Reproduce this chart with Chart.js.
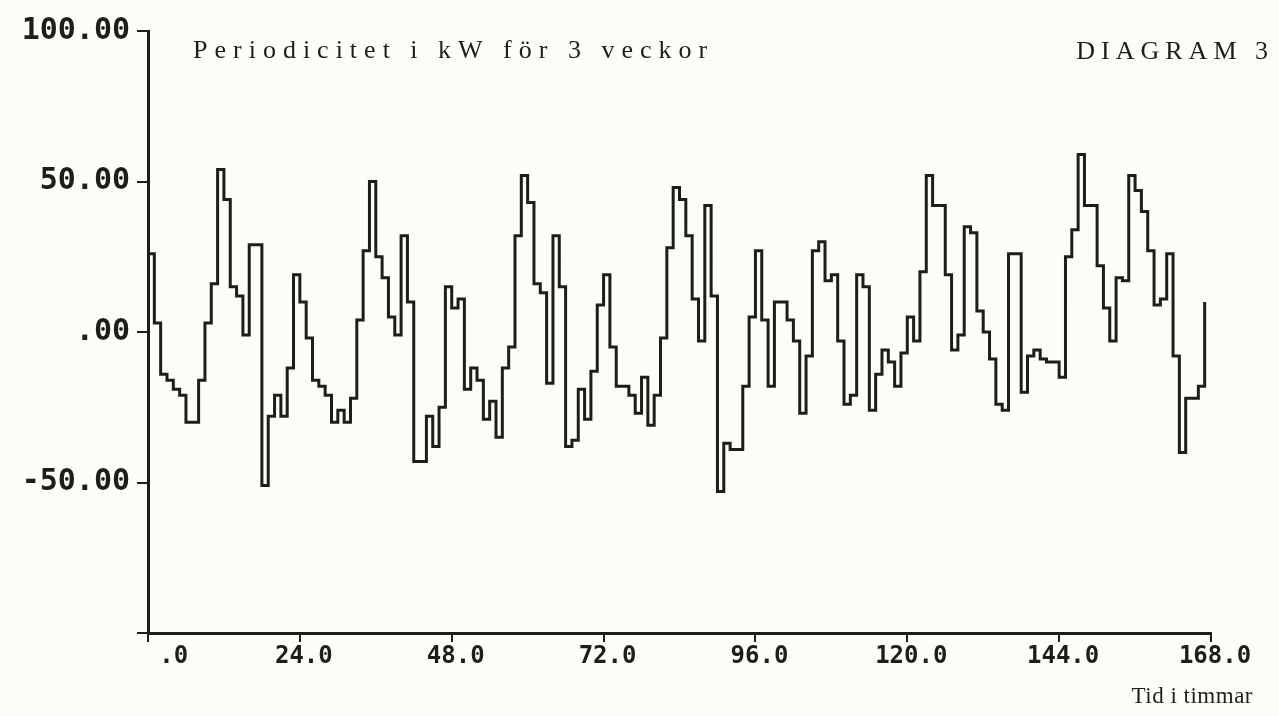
<!DOCTYPE html>
<html>
<head>
<meta charset="utf-8">
<script src="https://cdn.jsdelivr.net/npm/chart.js@4.4.1/dist/chart.umd.min.js"></script>
<style>
    html, body { margin: 0; padding: 0; background: #fdfdf8; }
    #wrap { width: 1279px; height: 716px; }
</style>
</head>
<body>
<div id="wrap"><canvas id="diagram_Chart" width="1279" height="716"></canvas></div>
<script>
// kW-avvikelse per timme, ett dygn per rad (timme 0-167)
const kwDag1 = [26, 3, -14, -16, -19, -21, -30, -30, -16, 3, 16, 54, 44, 15, 12, -1, 29, 29, -51, -28, -21, -28, -12, 19];
const kwDag2 = [10, -2, -16, -18, -21, -30, -26, -30, -22, 4, 27, 50, 25, 18, 5, -1, 32, 10, -43, -43, -28, -38, -25, 15];
const kwDag3 = [8, 11, -19, -12, -16, -29, -23, -35, -12, -5, 32, 52, 43, 16, 13, -17, 32, 15, -38, -36, -19, -29, -13, 9];
const kwDag4 = [19, -5, -18, -18, -21, -27, -15, -31, -21, -2, 28, 48, 44, 32, 11, -3, 42, 12, -53, -37, -39, -39, -18, 5];
const kwDag5 = [27, 4, -18, 10, 10, 4, -3, -27, -8, 27, 30, 17, 19, -3, -24, -21, 19, 15, -26, -14, -6, -10, -18, -7];
const kwDag6 = [5, -3, 20, 52, 42, 42, 19, -6, -1, 35, 33, 7, 0, -9, -24, -26, 26, 26, -20, -8, -6, -9, -10, -10];
const kwDag7 = [-15, 25, 34, 59, 42, 42, 22, 8, -3, 18, 17, 52, 47, 40, 27, 9, 11, 26, -8, -40, -22, -22, -18, 10];

// axlar
const xTicks = [0, 24, 48, 72, 96, 120, 144, 168];
const xTickLabels = ['.0', '24.0', '48.0', '72.0', '96.0', '120.0', '144.0', '168.0'];
const yTicks = [-100, -50, 0, 50, 100];
const yTickLabels = ['', '-50.00', '.00', '50.00', '100.00'];

const titleText = 'Periodicitet i kW för 3 veckor';
const diagramText = 'DIAGRAM 3';
const xAxisText = 'Tid i timmar';

document.addEventListener('DOMContentLoaded', () => {
    const kw = [...kwDag1, ...kwDag2, ...kwDag3, ...kwDag4, ...kwDag5, ...kwDag6, ...kwDag7];
    const points = kw.map((v, hour) => ({ x: hour, y: v }));
    const ink = '#1d1d1b';

    // texter i diagrammet
    const textPlugin = {
        id: 'diagramTexts',
        afterDraw(chart) {
            const ctx = chart.ctx;
            ctx.save();
            ctx.fillStyle = ink;
            ctx.textBaseline = 'alphabetic';
            ctx.font = '26px "Liberation Serif"';
            ctx.letterSpacing = '7px';
            ctx.textAlign = 'left';
            ctx.fillText(titleText, 193, 58);
            ctx.letterSpacing = '6px';
            ctx.textAlign = 'right';
            ctx.fillText(diagramText, 1274, 59);
            ctx.font = '23px "Liberation Serif"';
            ctx.letterSpacing = '0.5px';
            ctx.fillText(xAxisText, 1253, 703);
            ctx.restore();
        }
    };

    const ctxDiagram = document.getElementById('diagram_Chart').getContext('2d');
    new Chart(ctxDiagram, {
        type: 'line',
        data: {
            datasets: [{
                data: points,
                stepped: 'before',
                borderColor: ink,
                borderWidth: 3,
                pointRadius: 0,
                fill: false,
            }]
        },
        options: {
            responsive: false,
            animation: false,
            layout: {
                padding: { top: 31, right: 68, bottom: 0, left: 0 }
            },
            plugins: {
                legend: { display: false },
                tooltip: { enabled: false }
            },
            scales: {
                x: {
                    type: 'linear',
                    min: 0,
                    max: 168,
                    afterBuildTicks: (scale) => { scale.ticks = xTicks.map(v => ({ value: v })); },
                    afterFit: (scale) => { scale.height = 83; },
                    ticks: {
                        autoSkip: false,
                        maxRotation: 0,
                        padding: 0,
                        labelOffset: 4,
                        color: ink,
                        font: { family: '"DejaVu Sans Mono"', size: 24, weight: 'bold' },
                        callback: (value) => {
                            const label = xTickLabels[xTicks.indexOf(value)];
                            return value === 0 ? '   ' + label : label; // ".0" står till höger om nollan
                        }
                    },
                    grid: {
                        drawOnChartArea: false,
                        drawTicks: true,
                        tickLength: 9,
                        color: ink,
                        lineWidth: 2
                    },
                    border: { display: true, color: ink, width: 3 }
                },
                y: {
                    min: -100,
                    max: 100,
                    afterBuildTicks: (scale) => { scale.ticks = yTicks.map(v => ({ value: v })); },
                    afterFit: (scale) => { scale.width = 148; },
                    ticks: {
                        autoSkip: false,
                        padding: 7,
                        color: ink,
                        font: { family: '"DejaVu Sans Mono"', size: 30, weight: 'bold' },
                        callback: (value) => yTickLabels[yTicks.indexOf(value)]
                    },
                    grid: {
                        drawOnChartArea: false,
                        drawTicks: true,
                        tickLength: 11,
                        color: ink,
                        lineWidth: 2
                    },
                    border: { display: true, color: ink, width: 3 }
                }
            }
        },
        plugins: [textPlugin]
    });
});
</script>
</body>
</html>
